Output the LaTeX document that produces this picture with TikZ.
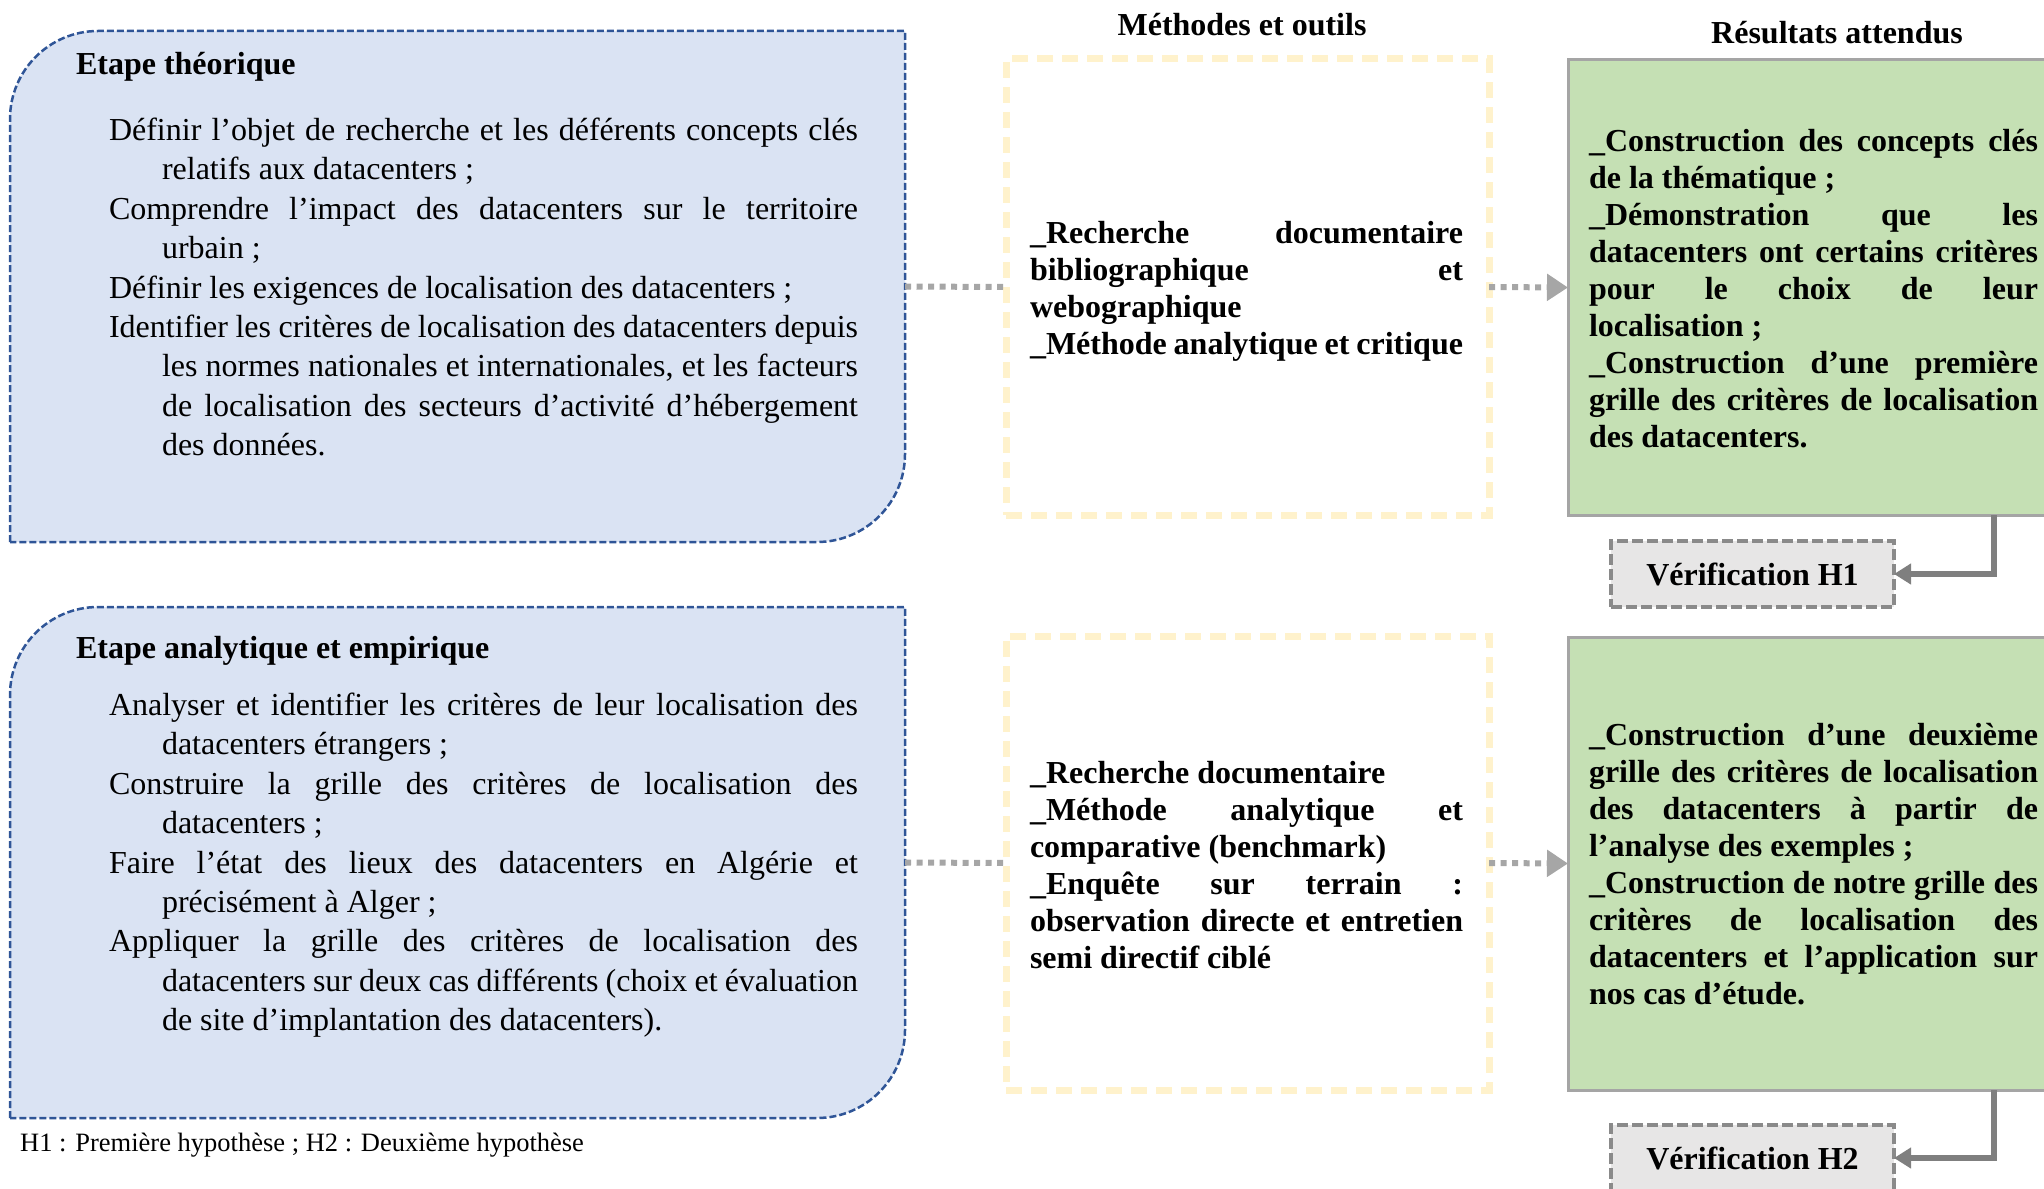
\documentclass[tikz,border=0pt]{standalone}
\usepackage{fontspec}
\setmainfont{Liberation Serif}
\usetikzlibrary{arrows.meta,calc}
\definecolor{bluefill}{HTML}{DAE3F3}
\definecolor{blueline}{HTML}{2F5597}
\definecolor{yellowline}{HTML}{FFF2CC}
\definecolor{greenfill}{HTML}{C5E0B4}
\definecolor{greenline}{HTML}{A5A5A5}
\definecolor{verfill}{HTML}{E7E6E6}
\definecolor{verline}{HTML}{8A8A8A}
\definecolor{dotgray}{HTML}{A6A6A6}
\definecolor{elbowgray}{HTML}{7F7F7F}
\newlength\jw
\newcommand\jsetup[1]{\setlength\jw{#1}\spaceskip=0pt\xspaceskip=0pt\relax}
\newcommand\jline[1]{\makebox[\jw][s]{\spaceskip=0.25em plus 1em minus 0.12em\relax #1}}
\newcommand\jind[1]{\hspace*{53pt}\makebox[\dimexpr\jw-53pt\relax][s]{\spaceskip=0.25em plus 1em minus 0.12em\relax #1}}
\newcommand\lind[1]{\hspace*{53pt}#1}
\begin{document}
\begin{tikzpicture}[x=1pt,y=-1pt,
  frame/.style={draw=none,inner sep=0pt,outer sep=0pt},
  leftbox/.style={fill=bluefill,draw=blueline,line width=2.5pt,dash pattern=on 7pt off 3pt},
  methbox/.style={draw=yellowline,line width=7pt,dash pattern=on 16pt off 9pt,inner sep=0pt,outer sep=0pt},
  resbox/.style={fill=greenfill,draw=greenline,line width=3pt,inner sep=0pt,outer sep=0pt},
  verbox/.style={fill=verfill,draw=verline,line width=3.5pt,dash pattern=on 11pt off 4pt,
     minimum width=283pt,minimum height=66pt,inner sep=0pt,outer sep=0pt,
     font=\bfseries\fontsize{32}{37}\selectfont},
  bodytext/.style={inner sep=0pt,outer sep=0pt,align=left,anchor=base west,
     font=\fontsize{32}{39.4}\selectfont},
  boldtext/.style={inner sep=0pt,outer sep=0pt,align=left,anchor=base west,
     font=\bfseries\fontsize{32}{37}\selectfont},
  titletext/.style={inner sep=0pt,outer sep=0pt,font=\bfseries\fontsize{32}{37}\selectfont},
  dotconn/.style={draw=dotgray,line width=6pt,dash pattern=on 6pt off 5.5pt},
  elbow/.style={draw=elbowgray,line width=6pt,-{Triangle[length=17pt,width=20pt]}}
]
\useasboundingbox (0,0) rectangle (2044,1188);

% frames
\node[frame,minimum width=895pt,minimum height=511pt] (et1) at (457.5,286.5) {};
\node[frame,minimum width=895pt,minimum height=511pt] (et2) at (457.5,862.5) {};
\draw[leftbox] (et1.south west) -- ($(et1.north west)+(0,88)$)
   arc[start angle=180,end angle=270,radius=88] -- (et1.north east)
   -- ($(et1.south east)+(0,-88)$) arc[start angle=0,end angle=90,radius=88] -- cycle;
\draw[leftbox] (et2.south west) -- ($(et2.north west)+(0,88)$)
   arc[start angle=180,end angle=270,radius=88] -- (et2.north east)
   -- ($(et2.south east)+(0,-88)$) arc[start angle=0,end angle=90,radius=88] -- cycle;

\node[methbox,minimum width=483pt,minimum height=456pt] (m1) at (1247.5,287) {};
\node[methbox,minimum width=483pt,minimum height=454pt] (m2) at (1247.5,863) {};

\node[resbox,minimum width=500pt,minimum height=455pt] (r1) at (1818,287.5) {};
\node[resbox,minimum width=500pt,minimum height=453pt] (r2) at (1818,863.5) {};

\node[verbox] (v1) at (1752.5,574) {Vérification H1};
\node[verbox] (v2) at (1752.5,1158) {Vérification H2};

% titles
\node[titletext,anchor=base] (tm) at (1242,35.5) {Méthodes et outils};
\node[titletext,anchor=base] (tr) at (1837,43.5) {Résultats attendus};
\node[titletext,anchor=base west] (t1) at (76,74.5) {Etape théorique};
\node[titletext,anchor=base west] (t2) at (76,658.5) {Etape analytique et empirique};

% left texts
\node[bodytext,text width=749pt] (b1) at (109,140.5) {\jsetup{749pt}%
\jline{Définir l’objet de recherche et les déférents concepts clés}\\
\lind{relatifs aux datacenters ;}\\
\jline{Comprendre l’impact des datacenters sur le territoire}\\
\lind{urbain ;}\\
Définir les exigences de localisation des datacenters ;\\
\jline{Identifier les critères de localisation des datacenters depuis}\\
\jind{les normes nationales et internationales, et les facteurs}\\
\jind{de localisation des secteurs d’activité d’hébergement}\\
\lind{des données.}};

\node[bodytext,text width=749pt] (b2) at (109,715.5) {\jsetup{749pt}%
\jline{Analyser et identifier les critères de leur localisation des}\\
\lind{datacenters étrangers ;}\\
\jline{Construire la grille des critères de localisation des}\\
\lind{datacenters ;}\\
\jline{Faire l’état des lieux des datacenters en Algérie et}\\
\lind{précisément à Alger ;}\\
\jline{Appliquer la grille des critères de localisation des}\\
\jind{datacenters sur deux cas différents (choix et évaluation}\\
\lind{de site d’implantation des datacenters).}};

% middle texts
\node[boldtext,text width=433pt] (mt1) at (1030,243.5) {\jsetup{433pt}%
\jline{\_Recherche documentaire}\\
\jline{bibliographique et}\\
webographique\\
\jline{\_Méthode analytique et critique}};

\node[boldtext,text width=433pt] (mt2) at (1030,783.5) {\jsetup{433pt}%
\_Recherche documentaire\\
\jline{\_Méthode analytique et}\\
comparative (benchmark)\\
\jline{\_Enquête sur terrain :}\\
\jline{observation directe et entretien}\\
semi directif ciblé};

% result texts
\node[boldtext,text width=449pt] (rt1) at (1589,151.5) {\jsetup{449pt}%
\jline{\_Construction des concepts clés}\\
de la thématique ;\\
\jline{\_Démonstration que les}\\
\jline{datacenters ont certains critères}\\
\jline{pour le choix de leur}\\
localisation ;\\
\jline{\_Construction d’une première}\\
\jline{grille des critères de localisation}\\
des datacenters.};

\node[boldtext,text width=449pt] (rt2) at (1589,745.5) {\jsetup{449pt}%
\jline{\_Construction d’une deuxième}\\
\jline{grille des critères de localisation}\\
\jline{des datacenters à partir de}\\
l’analyse des exemples ;\\
\jline{\_Construction de notre grille des}\\
\jline{critères de localisation des}\\
\jline{datacenters et l’application sur}\\
nos cas d’étude.};

% footnote
\node[inner sep=0pt,anchor=base west,font=\fontsize{26.5}{30}\selectfont] (fn) at (20,1151.5)
  {\spaceskip=0pt H1 : Première hypothèse ; H2 : Deuxième hypothèse};

% connectors
\draw[dotconn] (et1.east) -- (m1.west);
\draw[dotconn,-{Triangle[length=21pt,width=26pt]}] (m1.east) -- (r1.west);
\draw[dotconn] (et2.east) -- (m2.west);
\draw[dotconn,-{Triangle[length=21pt,width=26pt]}] (m2.east) -- (r2.west);

\coordinate (ex) at (1994,0);
\draw[elbow] (r1.south -| ex) |- (v1.east);
\draw[elbow] (r2.south -| ex) |- (v2.east);
\end{tikzpicture}
\end{document}
